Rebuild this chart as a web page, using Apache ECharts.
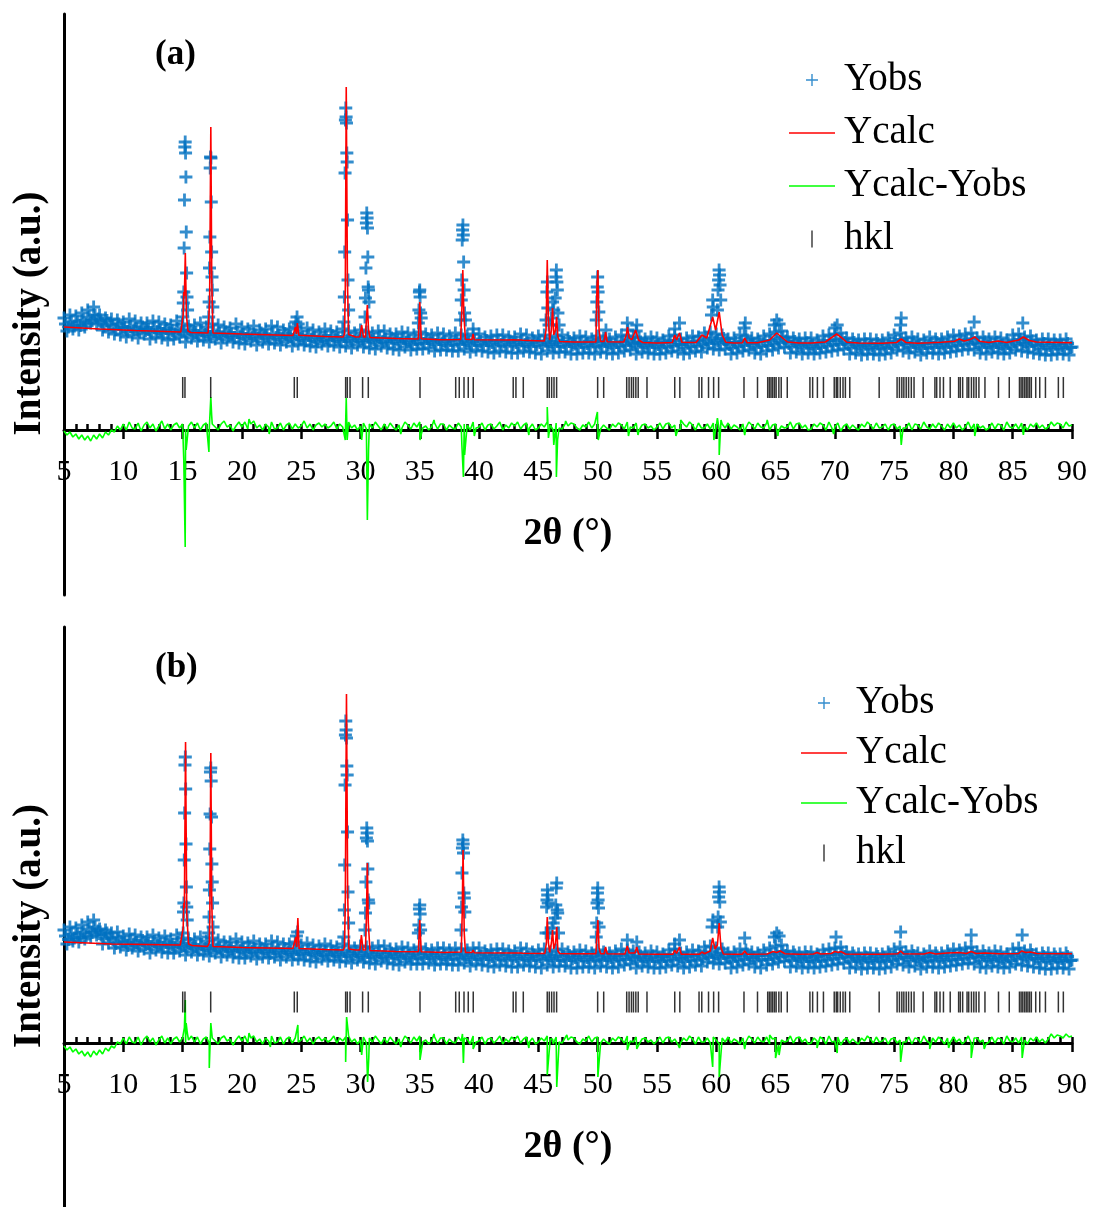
<!DOCTYPE html>
<html><head><meta charset="utf-8">
<script src="https://cdn.jsdelivr.net/npm/echarts@6/dist/echarts.min.js"></script>
<style>html,body{margin:0;padding:0;background:#fff}#c{width:1094px;height:1207px}</style>
</head><body><div id="c"></div>
<script>
// ---------- tick labels ----------
const xTickValues = [5,10,15,20,25,30,35,40,45,50,55,60,65,70,75,80,85,90];
const xMinorStep = 1;

// ---------- background samples ----------
// main samples at 2θ = 5 + 0.25·i, intermediate samples at 2θ = 5.125 + 0.25·i
const bgStart = 5, bgStep = 0.25, midStart = 5.125;

// panel (a) observed background (one row per degree)
const obsBgA = [
1120,990,1150,1010, 1140,1000,1170,1030, 1200,1070,1230,1060, 1150,1000,1120,980,
1110,960,1100,950, 1080,930,1110,950, 1090,920,1070,960, 1070,910,1090,930,
1080,920,1060,900, 1050,910,1090,930, 1060,880,1040,920, 1050,890,1070,900,
1030,880,1060,910, 1050,870,1030,900, 1020,880,1060,870, 1030,860,1010,890,
1040,850,1000,880, 1010,860,1040,870, 1030,850,1000,880, 1010,840,1030,860,
990,850,1020,840, 1000,830,980,860, 1010,840,990,850, 980,830,1010,840,
990,820,970,850, 1000,830,980,820, 970,810,990,840, 990,820,960,810,
960,800,980,830, 970,800,950,810, 980,810,960,820, 950,790,970,800,
960,800,940,790, 970,790,950,810, 940,780,960,800, 960,790,930,780,
940,770,950,790, 950,780,930,770, 930,770,960,790, 950,780,920,770,
940,760,950,790, 920,770,940,780, 950,780,920,760, 920,760,940,770,
930,770,910,760, 940,780,920,770, 910,760,930,770, 950,790,940,800,
930,760,920,780, 910,770,930,760, 920,760,900,770, 940,790,950,780,
910,760,920,770, 940,790,930,780, 970,820,980,810, 960,800,950,810,
910,760,920,770, 950,790,940,800, 920,770,910,760, 940,790,960,800,
980,820,990,830, 930,770,920,780, 910,760,920,770, 920,760,900,770,
940,780,950,790, 960,800,970,810, 920,760,910,770, 900,750,910,760,
910,760,900,750, 900,760,920,770, 950,800,970,790, 920,770,930,780,
910,750,900,770, 930,770,910,760, 910,770,930,780, 950,790,940,800,
960,810,970,800, 920,770,930,760, 910,780,930,770, 920,760,900,770,
950,800,960,790, 930,780,940,770, 900,760,910,750, 910,750,900,760,
900,760,910,750, 830];
const obsMidA = [
1060,1030,1080,1040, 1080,1045,1100,1060, 1130,1095,1150,1110, 1080,1040,1095,1060,
1040,1005,1060,1020, 1025,985,1035,1000, 1010,980,1030,995, 1005,970,1025,985,
1000,965,1015,975, 995,960,1010,980, 990,950,1000,965, 975,940,995,955,
970,935,985,950, 965,930,980,945, 960,925,975,940, 955,915,965,930,
950,915,970,930, 945,910,960,925, 945,905,965,925, 935,900,955,915,
930,895,950,910, 925,885,940,900, 925,890,945,905, 920,885,935,900,
915,880,935,895, 915,880,930,895, 905,870,925,885, 910,870,920,885,
900,865,920,880, 890,855,910,870, 900,865,915,880, 890,855,905,870,
885,845,900,860, 890,855,910,870, 880,845,900,860, 885,845,895,860,
875,840,895,855, 880,840,890,855, 875,840,895,855, 870,835,890,850,
875,840,890,855, 870,835,890,850, 875,835,885,850, 860,825,880,840,
865,830,885,845, 870,835,890,850, 860,825,875,840, 880,845,900,860,
870,830,880,845, 860,825,880,840, 855,820,875,835, 875,840,895,855,
855,820,870,835, 880,840,890,855, 900,865,920,880, 895,860,915,875,
855,820,875,835, 880,845,900,860, 860,825,880,840, 885,845,895,860,
910,875,930,890, 865,830,885,845, 855,820,870,835, 850,815,870,830,
875,840,895,855, 895,860,910,875, 855,820,875,835, 845,810,860,825,
845,810,865,825, 850,815,870,830, 885,850,905,865, 860,825,880,840,
850,815,865,830, 865,825,875,840, 860,825,880,840, 880,845,900,860,
895,860,910,875, 860,825,880,840, 860,825,875,840, 850,815,870,830,
885,850,905,865, 870,835,890,850, 845,810,865,825, 845,810,860,825,
845,810,865,825];

// panel (b) observed background
const obsBgB = [
1130,990,1160,1020, 1150,1010,1180,1040, 1210,1060,1230,1080, 1140,990,1130,1000,
1100,950,1110,960, 1070,930,1090,950, 1080,920,1060,940, 1060,900,1080,930,
1050,910,1070,900, 1040,900,1080,920, 1050,880,1030,910, 1040,880,1060,890,
1020,870,1050,900, 1030,860,1010,880, 1010,860,1040,850, 1010,850,1000,870,
1020,840,990,860, 990,850,1020,860, 1010,830,990,860, 990,830,1010,840,
980,830,1000,820, 980,810,970,840, 990,820,970,830, 960,810,990,820,
970,800,950,830, 970,810,960,800, 950,790,970,820, 970,800,940,790,
940,780,960,810, 950,790,930,790, 960,790,940,800, 930,780,950,790,
950,790,930,780, 950,780,940,800, 930,770,950,790, 950,780,920,770,
930,760,940,780, 940,770,920,760, 920,760,950,780, 940,770,910,760,
930,750,940,780, 910,760,930,770, 940,770,910,750, 910,750,930,760,
920,760,900,750, 930,770,910,760, 900,750,920,760, 940,780,930,790,
920,750,910,770, 900,760,920,750, 910,750,890,760, 930,780,940,770,
900,750,910,760, 930,780,920,770, 960,810,970,800, 950,790,940,800,
900,750,910,760, 940,780,930,790, 910,760,900,750, 930,780,950,790,
970,810,980,820, 920,760,910,770, 900,750,910,760, 910,750,890,760,
930,770,940,780, 950,790,960,800, 910,750,900,760, 890,740,900,750,
900,750,890,740, 890,750,910,760, 940,790,960,780, 910,760,920,770,
900,740,890,760, 920,760,900,750, 900,760,920,770, 940,780,930,790,
950,800,960,790, 910,760,920,750, 900,770,920,760, 910,750,890,760,
940,790,950,780, 920,770,930,760, 890,750,900,740, 900,740,890,750,
890,750,900,740, 830];
const obsMidB = [
1070,1035,1090,1050, 1090,1055,1110,1070, 1140,1105,1160,1120, 1080,1045,1100,1060,
1030,995,1050,1010, 1010,975,1030,990, 1005,970,1025,985, 995,960,1015,975,
990,955,1010,970, 985,950,1005,965, 975,940,995,955, 965,930,985,945,
960,925,980,940, 950,915,970,930, 945,910,965,925, 935,900,955,915,
940,900,950,915, 930,895,950,910, 925,890,945,905, 920,885,940,900,
915,880,935,895, 905,870,925,885, 910,870,920,885, 900,865,920,880,
895,860,915,875, 890,855,910,870, 885,850,905,865, 890,850,900,865,
880,845,900,860, 875,840,895,855, 880,845,895,860, 875,840,895,855,
870,835,890,850, 880,840,890,855, 870,835,890,850, 870,835,885,850,
865,830,885,845, 870,830,880,845, 865,830,885,845, 860,825,880,840,
865,830,880,845, 860,825,880,840, 865,825,875,840, 855,820,875,835,
855,820,870,835, 860,825,880,840, 855,820,870,835, 870,835,890,850,
860,820,870,835, 850,815,870,830, 850,815,865,830, 865,830,885,845,
850,815,865,830, 870,830,880,845, 890,855,910,870, 880,845,900,860,
850,815,870,830, 870,835,890,850, 855,820,875,835, 875,835,885,850,
895,860,915,875, 860,825,880,840, 850,815,865,830, 850,815,870,830,
865,830,885,845, 885,850,900,865, 850,815,870,830, 845,810,860,825,
845,810,865,825, 850,815,870,830, 875,840,895,855, 855,820,875,835,
845,810,860,825, 860,820,870,835, 855,820,875,835, 870,835,890,850,
885,850,900,865, 855,820,875,835, 855,820,870,835, 845,810,865,825,
875,840,895,855, 865,830,885,845, 845,810,865,825, 845,810,860,825,
845,810,865,825];

// observed points on the peaks [2θ, intensity]
const obsPeaksA = [
[15.02,1130],[15.06,1270],[15.10,1380],[15.13,1820],[15.16,2300],[15.19,2830],[15.22,2880],[15.25,2770],[15.28,2530],[15.31,1980],[15.34,1570],[15.37,1330],[15.42,1200],
[17.20,1130],[17.24,1280],[17.27,1620],[17.30,1930],[17.33,2620],[17.36,2730],[17.39,2720],[17.42,2280],[17.45,1780],[17.48,1530],[17.51,1400],[17.55,1230],
[24.55,1080],[24.65,1130],[24.75,1060],
[28.60,1080],[28.64,1330],[28.67,1780],[28.70,2570],[28.73,3100],[28.76,3220],[28.79,3130],[28.82,3070],[28.85,2770],[28.88,2680],[28.91,2100],[28.95,1500],[29.00,1200],
[30.38,1130],[30.42,1320],[30.46,1620],[30.50,2070],[30.53,2170],[30.56,2120],[30.59,2020],[30.62,1730],[30.65,1430],[30.68,1400],[30.72,1280],
[34.88,1070],[34.93,1200],[34.97,1380],[35.00,1400],[35.03,1330],[35.07,1170],[35.12,1120],
[38.45,1100],[38.50,1300],[38.54,1500],[38.58,1900],[38.61,2000],[38.64,2050],[38.67,1950],[38.70,1680],[38.74,1400],[38.78,1170],[38.85,1100],[39.50,1010],
[45.65,1100],[45.72,1380],[45.76,1480],[45.80,1220],[45.90,1050],[46.10,1120],[46.20,1280],[46.30,1200],[46.42,1320],[46.48,1530],[46.52,1600],[46.56,1480],[46.60,1400],[46.65,1170],[46.75,1050],
[49.88,1100],[49.93,1280],[49.97,1430],[50.00,1530],[50.04,1380],[50.10,1180],[50.70,1000],
[52.50,1070],[52.55,1000],[53.25,990],[53.30,1050],[56.50,1010],[56.90,1070],
[59.60,1150],[59.70,1300],[59.75,1230],
[60.10,1200],[60.15,1400],[60.20,1500],[60.24,1600],[60.28,1550],[60.32,1450],[60.38,1300],
[62.35,1020],[62.45,1070],[64.90,1050],[65.10,1100],[65.30,1060],[70.00,1020],[70.20,1050],
[75.55,1050],[75.60,1120],[81.75,1080],[85.85,1070]
];
const obsPeaksB = [
[15.05,1100],[15.08,1310],[15.11,1400],[15.14,1830],[15.17,2300],[15.20,2780],[15.23,2860],[15.26,2540],[15.29,1990],[15.32,1560],[15.35,1360],[15.39,1230],
[17.20,1100],[17.23,1260],[17.26,1530],[17.29,1940],[17.32,2290],[17.35,2710],[17.38,2750],[17.41,2620],[17.44,2260],[17.47,1790],[17.50,1610],[17.53,1400],[17.57,1160],
[24.60,1070],[24.70,1110],
[28.60,1060],[28.64,1330],[28.67,1780],[28.70,2580],[28.73,3080],[28.76,3220],[28.79,3130],[28.82,3050],[28.85,2770],[28.88,2680],[28.91,2110],[28.95,1510],[29.00,1200],
[30.38,1130],[30.42,1300],[30.46,1610],[30.50,2050],[30.53,2150],[30.56,2100],[30.59,2020],[30.62,1740],[30.66,1430],[30.70,1400],
[34.88,1100],[34.93,1180],[34.97,1340],[35.00,1380],[35.03,1290],[35.07,1130],
[38.48,1130],[38.52,1360],[38.56,1700],[38.60,1950],[38.63,2030],[38.66,1990],[38.69,1900],[38.72,1500],[38.76,1450],[38.80,1310],
[45.65,1100],[45.70,1360],[45.73,1430],[45.76,1530],[45.79,1480],[45.83,1400],[45.90,1100],[46.15,1150],[46.25,1200],[46.42,1250],[46.47,1380],[46.51,1550],[46.55,1600],[46.59,1330],[46.63,1300],[46.70,1100],
[49.88,1060],[49.92,1200],[49.95,1400],[49.98,1500],[50.01,1550],[50.04,1430],[50.07,1350],[50.12,1160],
[52.50,1030],[53.30,1010],[56.50,990],[56.90,1030],
[59.65,1160],[59.72,1230],
[60.12,1160],[60.16,1260],[60.20,1460],[60.24,1560],[60.27,1510],[60.30,1410],[60.35,1210],
[62.40,1050],[64.90,1060],[65.10,1100],[65.30,1070],[70.10,1060],[75.55,1110],[81.50,1080],[85.80,1080]
];

// calculated profiles [2θ, intensity]
const calcA = [
[5,1030],[6.5,1020],[8,1010],[11,995],[14.85,980],
[14.95,985],[15.05,1150],[15.10,1380],[15.15,1340],[15.23,1770],[15.32,1150],[15.45,990],[15.7,975],
[17.15,970],[17.28,1300],[17.38,3030],[17.46,1500],[17.56,970],
[20,960],[24.3,945],[24.42,950],[24.52,1030],[24.60,960],[24.68,1070],[24.8,948],
[27,935],[28.55,930],[28.65,960],[28.72,1400],[28.80,3430],[28.90,1500],[29.0,955],[29.6,930],
[29.95,932],[30.10,1050],[30.25,930],[30.42,930],[30.50,1100],[30.58,1250],[30.68,1000],[30.8,925],
[33,915],[34.88,910],[35.0,1280],[35.12,912],
[36.7,902],[38.45,905],[38.55,1200],[38.63,1600],[38.72,1150],[38.85,908],[39.4,905],[39.5,960],[39.6,903],
[42.4,900],[42.9,902],[43.0,920],[43.1,900],[43.5,900],[43.6,920],[43.7,898],
[45.5,890],[45.65,1000],[45.75,1700],[45.85,1100],[45.95,900],[46.1,1000],[46.2,1220],[46.3,950],[46.45,1000],[46.54,1130],[46.65,930],[46.8,885],
[48,880],[49.85,880],[49.95,1450],[50.02,1600],[50.12,1000],[50.25,885],[50.55,885],[50.67,980],[50.8,883],
[52.2,880],[52.42,950],[52.52,1030],[52.65,920],[52.9,905],[53.2,1000],[53.32,1020],[53.45,900],[53.8,875],
[55,870],[56.3,875],[56.5,950],[56.65,900],[56.9,970],[57.1,878],
[58.3,875],[58.8,950],[59.2,920],[59.7,1130],[59.95,1000],[60.25,1180],[60.5,950],[60.8,878],
[61.5,870],[62.2,872],[62.4,920],[62.6,872],
[63.5,872],[64.5,900],[65.1,970],[65.6,920],[66,880],
[67,870],[68,870],[69.2,880],[69.8,930],[70.15,960],[70.6,920],[71,878],
[72,870],[74,868],[75.2,875],[75.6,910],[76,875],
[77,868],[78,872],[79,878],[80.1,888],[80.5,910],[80.9,890],[81.4,905],[81.8,930],[82.2,888],[83,875],[83.75,890],[84.5,875],[85.5,900],[85.9,930],[86.4,895],[87,880],[90,872]
];
const calcB = [
[5,1010],[7,1000],[9,990],[12,985],[14.8,980],
[14.95,990],[15.05,1150],[15.10,1400],[15.15,1350],[15.25,3010],[15.35,1300],[15.5,990],[15.8,975],
[17.1,965],[17.25,1000],[17.30,1300],[17.38,2900],[17.46,1400],[17.56,965],
[20,955],[24.3,945],[24.45,950],[24.55,1060],[24.62,960],[24.72,1250],[24.82,945],
[27,935],[28.55,930],[28.65,960],[28.72,1400],[28.82,3490],[28.92,1500],[29.02,940],[29.6,930],
[29.95,930],[30.08,1080],[30.22,930],[30.42,930],[30.50,1250],[30.58,1800],[30.66,1200],[30.8,925],
[33,915],[34.88,912],[35.0,1230],[35.12,912],
[37,905],[38.5,910],[38.58,1300],[38.65,1930],[38.75,1100],[38.85,905],[39.4,905],[39.5,930],[39.6,903],
[42.9,900],[43.0,920],[43.1,900],[43.5,900],[43.6,920],[43.7,898],
[45.55,895],[45.68,1000],[45.75,1260],[45.85,1000],[45.95,905],[46.1,1000],[46.2,1130],[46.3,940],[46.45,1000],[46.55,1160],[46.65,920],[46.8,895],
[48,893],[49.85,892],[49.95,1100],[50.02,1230],[50.12,950],[50.25,892],[50.55,892],[50.67,960],[50.8,892],
[52.3,890],[52.5,970],[52.65,900],[53.15,900],[53.3,960],[53.45,890],
[55,888],[56.35,888],[56.5,930],[56.65,895],[56.9,960],[57.05,888],
[58.6,888],[58.8,910],[59.0,893],[59.5,920],[59.7,1050],[59.9,940],[60.1,980],[60.25,1200],[60.4,950],[60.6,890],
[61.5,888],[62.2,888],[62.4,920],[62.6,888],
[64.3,890],[64.8,915],[65.1,905],[65.4,920],[65.8,892],
[67,888],[68.2,890],[68.5,905],[68.8,890],[69.7,895],[70.0,915],[70.3,905],[70.5,915],[70.9,890],
[72.5,888],[74,888],[75.3,892],[75.55,920],[75.8,892],
[77.5,890],[78,905],[78.5,890],[79.5,900],[80.5,905],[81.1,895],[81.5,915],[81.9,895],[82.7,900],[83.8,893],
[85.5,895],[85.75,920],[86.1,905],[86.5,910],[87,895],[90,893]
];

// difference curve background (0.25° grid) and its spikes
const diffBgA = [
-10,-50,-20,-70, -40,-90,-50,-100, -60,-110,-50,-90, -40,-80,-20,-50, 0,-20,40,0,
60,0,80,20, 10,70,-10,50, 80,20,60,-10, 40,90,10,60, 0,50,70,20,
60,10,40,80, 20,70,0,50, 70,10,60,30, 0,60,90,30, 50,-10,40,80,
30,80,10,60, 90,20,50,0, 60,30,80,10, 20,70,0,50, 70,10,60,20,
40,90,20,60, 0,50,70,30, 60,20,40,80, 10,60,30,70, 80,20,50,0,
40,70,10,60, 20,80,40,0, 60,10,70,30, 0,50,20,80, 50,10,70,30,
80,20,40,0, 30,70,10,60, 60,0,50,20, 10,70,30,60, 50,0,80,20,
30,70,0,50, 60,10,40,80, 0,50,20,70, 40,80,10,50, 70,20,60,0,
20,60,30,80, 50,0,70,20, 10,60,40,70, 60,20,0,50, 30,80,20,60,
70,10,50,20, 0,60,30,70, 50,10,80,30, 20,70,0,50, 60,20,40,0,
30,70,10,60, 70,20,50,0, 10,60,30,80, 50,0,70,20, 20,60,10,70,
40,0,60,20, 70,10,50,30, 0,60,20,80, 50,10,70,30, 20,70,0,50,
60,-10,40,20, 30,80,10,60, 70,20,50,0, 10,60,30,70, 50,0,80,20,
30,70,-10,40, 60,10,50,20, 0,60,30,80, 50,10,70,20, 30,60,0,50,
60,10,40,20, 20,70,0,60, 50,10,80,30, 10,60,20,70, 40,0,60,20,
70,20,50,0, 30,80,10,60, 60,20,40,0, 20,70,10,60, 50,0,80,30,
20,60,10,70, 40,0,60,30, 70,20,50,10, 30,80,40,70, 60,20,80,40,
50];
const diffBgB = [
-30,-70,-40,-90, -60,-110,-80,-130, -90,-140,-80,-120, -70,-110,-50,-80, -30,-50,10,-10,
50,-10,60,10, 0,60,-20,40, 70,10,50,-20, 30,70,0,50, -10,40,60,10,
50,0,30,70, 10,60,-10,40, 60,0,50,20, -10,50,70,20, 40,-20,30,70,
20,70,0,50, 70,10,40,-10, 50,20,70,0, 10,60,-10,40, 60,0,50,10,
30,70,10,50, -10,40,60,20, 50,10,30,70, 0,50,20,60, 70,10,40,-10,
30,60,0,50, 10,70,30,-10, 50,0,60,20, -10,40,10,70, 40,0,60,20,
70,10,30,-10, 20,60,0,50, 50,-10,40,10, 0,60,20,50, 40,-10,70,10,
20,60,-10,40, 50,0,30,70, -10,40,10,60, 30,70,0,40, 60,10,50,-10,
10,50,20,70, 40,-10,60,10, 0,50,30,60, 50,10,-10,40, 20,70,10,50,
60,0,40,10, -10,50,20,60, 40,0,70,20, 10,60,-10,40, 50,10,30,-10,
20,60,0,50, 60,10,40,-10, 0,50,20,70, 40,-10,60,10, 10,50,0,60,
30,-10,50,10, 60,0,40,20, -10,50,10,70, 40,0,60,20, 10,60,-10,40,
50,-20,30,10, 20,70,0,50, 60,10,40,-10, 0,50,20,60, 40,-10,70,10,
20,60,-20,30, 50,0,40,10, -10,50,20,70, 40,0,60,10, 20,50,-10,40,
50,0,30,10, 10,60,-10,50, 40,0,70,20, 0,50,10,60, 30,-10,50,10,
60,10,40,-10, 20,70,0,50, 50,10,30,-10, 10,60,0,50, 40,-10,70,20,
10,50,0,60, 30,-10,50,20, 60,10,40,0, 40,90,50,80, 70,50,90,60,
70];
const diffSpikesA = [
[15.10,-300],[15.22,-1170],[15.30,-200],
[17.22,-220],[17.38,330],[17.45,150],
[20.60,110],[22.30,-40],
[28.72,-100],[28.80,320],[28.88,-100],
[30.10,-100],[30.58,-900],[30.68,-200],
[33.40,-40],[35.02,-100],[36.20,100],
[38.55,-150],[38.68,-470],[38.78,-250],[39.60,-60],
[44.20,-50],[45.75,230],[45.85,-80],[46.30,-150],[46.52,-470],[46.62,-100],[47.30,90],
[49.98,180],[50.05,-100],
[52.60,-60],[53.40,-50],[56.60,-60],[57.00,100],[59.80,-100],
[60.10,120],[60.25,-250],[60.40,100],
[62.40,-50],[64.30,100],[65.20,-60],[69.90,-40],[70.30,90],
[75.60,-150],[81.80,-60],[85.90,-50]
];
const diffSpikesB = [
[15.15,150],[15.23,430],[15.30,200],[15.40,100],
[17.25,-250],[17.38,200],
[20.60,100],[22.40,-40],
[24.72,180],
[28.75,-190],[28.83,260],
[30.10,-120],[30.60,-390],[30.70,-150],
[33.40,-40],[35.02,-170],[36.20,90],
[38.60,90],[38.68,-200],[39.50,-60],
[44.20,-50],[45.75,-320],[46.20,40],[46.55,-440],[47.40,80],
[50.02,-340],
[52.50,-70],[53.30,-60],[56.90,-50],
[59.70,-240],[60.25,-340],
[62.40,-60],[64.50,80],[65.00,-150],[65.30,-120],
[68.50,-50],[70.20,-100],
[75.55,-190],[78.00,-60],[79.60,-50],
[81.50,-150],[82.60,-60],
[85.80,-150]
];

// Bragg reflection positions (2θ)
const hklPositions = [15.01,15.20,17.37,24.42,24.67,28.75,28.89,29.12,30.18,30.66,35.02,38.03,38.33,38.73,39.09,39.51,42.88,43.11,43.73,45.75,45.92,46.12,46.32,46.54,50.00,50.51,52.45,52.65,52.85,53.02,53.22,53.42,54.16,56.50,56.93,58.55,58.78,59.35,59.78,60.20,62.34,63.48,64.34,64.48,64.62,64.76,64.91,65.05,65.28,65.48,65.99,67.90,68.13,68.53,69.04,69.95,70.12,70.24,70.46,70.69,70.89,71.26,73.74,75.25,75.45,75.65,75.82,76.02,76.22,76.45,76.68,77.45,78.44,78.59,78.87,79.16,79.73,80.44,80.58,80.78,81.15,81.29,81.52,81.72,81.92,82.15,82.66,83.80,84.71,85.57,85.71,85.85,86.00,86.14,86.28,86.42,86.57,86.94,87.28,87.76,88.85,89.27];

const legendNames = ['Yobs','Ycalc','Ycalc-Yobs','hkl'];
const panelLabels = ['(a)','(b)'];

// ---------- build ----------
const FONT = 'Liberation Serif';
const BLUE = '#0070c0', RED = '#ff0000', GREEN = '#00ff00';
const PLUS = 'path://M4.7,0H7.3V4.7H12V7.3H7.3V12H4.7V7.3H0V4.7H4.7Z';
const PLUS_ICON = 'path://M0,0L0.01,0L0,0.01ZM17,17L16.99,17L17,16.99ZM7.8,2.5H9.2V7.8H14.5V9.2H9.2V14.5H7.8V9.2H2.5V7.8H7.8Z';
const LINE_ICON = 'path://M0,0H46V1.6H0Z';
const HKL_ICON = 'path://M0,0H1.4V17H0Z';

function onGrid(vals, start){ return vals.map((v,i)=>[start + bgStep*i, v]); }
function merged(bg, extra){ return onGrid(bg, bgStart).concat(extra).sort((a,b)=>a[0]-b[0]); }

const panels = [
  {obs: onGrid(obsBgA, bgStart).concat(onGrid(obsMidA, midStart), obsPeaksA), calc: calcA, diff: merged(diffBgA, diffSpikesA), hklY: 425,
   grid:{left:64, width:1008, top:14, height:581}, yMin:-1650, yMax:4160,
   legend:{left:789, top:60, gap:13}, label:{left:155, top:37}},
  {obs: onGrid(obsBgB, bgStart).concat(onGrid(obsMidB, midStart), obsPeaksB), calc: calcB, diff: merged(diffBgB, diffSpikesB), hklY: 410,
   grid:{left:64, width:1008, top:627, height:580}, yMin:-1640, yMax:4160,
   legend:{left:801, top:683, gap:10}, label:{left:155, top:650}}
];

const option = {animation:false, backgroundColor:'#fff', grid:[], xAxis:[], yAxis:[], series:[], legend:[], title:[]};
const xMin = xTickValues[0], xMax = xTickValues[xTickValues.length-1], xInt = xTickValues[1]-xTickValues[0];
const nameStyle = {fontFamily:FONT, fontWeight:'bold', color:'#000'};

panels.forEach((p, g) => {
  option.grid.push(Object.assign({containLabel:false, outerBoundsMode:'none'}, p.grid));
  const span = p.yMax - p.yMin;
  const zeroFromBottom = p.grid.height * (-p.yMin) / span;
  const zeroFromTop = p.grid.height * p.yMax / span;
  option.xAxis.push({gridIndex:g, type:'value', min:xMin, max:xMax, interval:xInt, position:'bottom', offset:-zeroFromBottom,
    axisLine:{show:true, onZero:false, lineStyle:{color:'#000', width:3}},
    axisTick:{show:true, inside:false, length:9, lineStyle:{color:'#000', width:2.5}},
    axisLabel:{show:true, margin:27, fontSize:30, fontFamily:FONT, color:'#000'},
    splitLine:{show:false},
    name:'2θ (°)', nameLocation:'middle', nameGap:85, nameTextStyle:Object.assign({fontSize:38}, nameStyle)});
  option.xAxis.push({gridIndex:g, type:'value', min:xMin, max:xMax, interval:xMinorStep, position:'top', offset:-zeroFromTop,
    axisLine:{show:false, onZero:false},
    axisTick:{show:true, inside:false, length:6, lineStyle:{color:'#000', width:2.5}},
    axisLabel:{show:false}, splitLine:{show:false}});
  option.yAxis.push({gridIndex:g, type:'value', min:p.yMin, max:p.yMax,
    axisLine:{show:true, onZero:false, lineStyle:{color:'#000', width:3}},
    axisTick:{show:false}, axisLabel:{show:false}, splitLine:{show:false},
    name:'Intensity (a.u.)', nameLocation:'middle', nameGap:15,
    nameTextStyle:Object.assign({fontSize:39, padding:[0,18,0,0]}, nameStyle)});
  const xi = g*2, yi = g;
  option.series.push(
    {name:'Yobs', type:'scatter', xAxisIndex:xi, yAxisIndex:yi, data:p.obs, symbol:PLUS, symbolSize:13,
     itemStyle:{color:BLUE}, z:2, silent:true},
    {name:'Ycalc', type:'line', xAxisIndex:xi, yAxisIndex:yi, data:p.calc, symbol:'none', showSymbol:false,
     lineStyle:{color:RED, width:1.6}, itemStyle:{color:RED}, z:3, silent:true},
    {name:'Ycalc-Yobs', type:'line', xAxisIndex:xi, yAxisIndex:yi, data:p.diff, symbol:'none', showSymbol:false,
     lineStyle:{color:GREEN, width:1.6}, itemStyle:{color:GREEN}, z:4, silent:true},
    {name:'hkl', type:'scatter', xAxisIndex:xi, yAxisIndex:yi, data:hklPositions.map(x=>[x, p.hklY]),
     symbol:'rect', symbolSize:[1.5,21], itemStyle:{color:'#000'}, z:4, silent:true}
  );
  option.legend.push({orient:'vertical', left:p.legend.left, top:p.legend.top, padding:0,
    itemWidth:46, itemHeight:17, itemGap:p.legend.gap, selectedMode:false,
    textStyle:{fontSize:39, fontFamily:FONT, color:'#000', lineHeight:40, padding:[0,0,0,4]},
    data:[{name:legendNames[0], icon:PLUS_ICON}, {name:legendNames[1], icon:LINE_ICON},
          {name:legendNames[2], icon:LINE_ICON}, {name:legendNames[3], icon:HKL_ICON}]});
  option.title.push({text:panelLabels[g], left:p.label.left, top:p.label.top, padding:0,
    textStyle:Object.assign({fontSize:35}, nameStyle)});
});

const chart = echarts.init(document.getElementById('c'), null, {renderer:'canvas'});
chart.setOption(option);
</script>
</body></html>
